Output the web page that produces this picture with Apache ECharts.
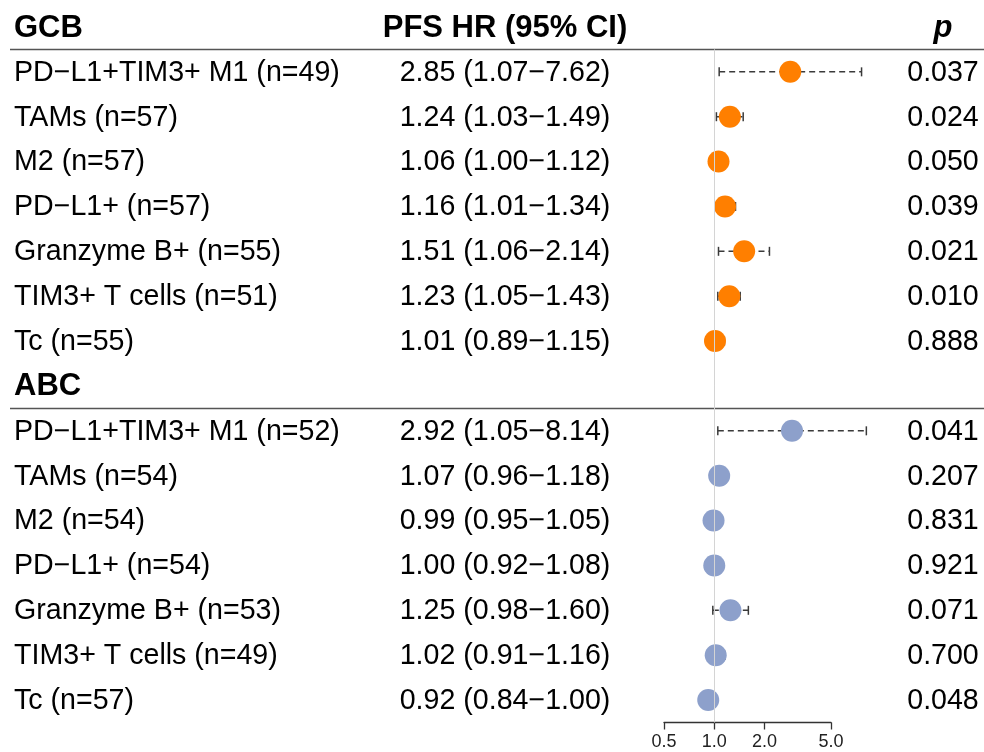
<!DOCTYPE html>
<html>
<head>
<meta charset="utf-8">
<script src="https://cdn.jsdelivr.net/npm/echarts@6/dist/echarts.min.js"></script>
<style>
  html, body { margin: 0; padding: 0; background: #fff; }
  #chart { width: 984px; height: 752px; }
</style>
</head>
<body>
<div id="chart"></div>
<script>
// Subgroup headers and column titles
const groupNames = ['GCB', 'ABC'];
const columnTitles = ['PFS HR (95% CI)', 'p'];
const axisTicks = [0.5, 1.0, 2.0, 5.0];

// GCB subgroup
const gcbLabels = ['PD\u2212L1+TIM3+ M1 (n=49)', 'TAMs (n=57)', 'M2 (n=57)', 'PD\u2212L1+ (n=57)',
  'Granzyme B+ (n=55)', 'TIM3+ T cells (n=51)', 'Tc (n=55)'];
const gcbHR    = [2.85, 1.24, 1.06, 1.16, 1.51, 1.23, 1.01];
const gcbLower = [1.07, 1.03, 1.00, 1.01, 1.06, 1.05, 0.89];
const gcbUpper = [7.62, 1.49, 1.12, 1.34, 2.14, 1.43, 1.15];
const gcbP     = ['0.037', '0.024', '0.050', '0.039', '0.021', '0.010', '0.888'];

// ABC subgroup
const abcLabels = ['PD\u2212L1+TIM3+ M1 (n=52)', 'TAMs (n=54)', 'M2 (n=54)', 'PD\u2212L1+ (n=54)',
  'Granzyme B+ (n=53)', 'TIM3+ T cells (n=49)', 'Tc (n=57)'];
const abcHR    = [2.92, 1.07, 0.99, 1.00, 1.25, 1.02, 0.92];
const abcLower = [1.05, 0.96, 0.95, 0.92, 0.98, 0.91, 0.84];
const abcUpper = [8.14, 1.18, 1.05, 1.08, 1.60, 1.16, 1.00];
const abcP     = ['0.041', '0.207', '0.831', '0.921', '0.071', '0.700', '0.048'];

const FONT = '"Liberation Sans", Arial, Helvetica, sans-serif';
const ORANGE = '#FF7F00';
const BLUE = '#8DA0CB';

// Row layout: header row, 7 items, header row, 7 items
const gcbRows = gcbHR.map((_, i) => i + 1);
const abcRows = abcHR.map((_, i) => i + 9);
const headerRows = [0, 8];

const fmt = v => v.toFixed(2);
const hrText = (hr, lo, up) => fmt(hr) + ' (' + fmt(lo) + '\u2212' + fmt(up) + ')';

// Table rows: [x anchor (HR=1), row, label, hr text, p text]
const tableRows = [];
gcbRows.forEach((r, i) => tableRows.push([1, r, gcbLabels[i], hrText(gcbHR[i], gcbLower[i], gcbUpper[i]), gcbP[i]]));
abcRows.forEach((r, i) => tableRows.push([1, r, abcLabels[i], hrText(abcHR[i], abcLower[i], abcUpper[i]), abcP[i]]));

// Confidence intervals: [lower, row, upper]
const ciRows = [];
gcbRows.forEach((r, i) => ciRows.push([gcbLower[i], r, gcbUpper[i]]));
abcRows.forEach((r, i) => ciRows.push([abcLower[i], r, abcUpper[i]]));

const chart = echarts.init(document.getElementById('chart'), null, { renderer: 'canvas' });

const X_LABEL = 14, X_HR = 505, X_P = 943;

chart.setOption({
  animation: false,
  backgroundColor: '#fff',
  grid: { left: 664, right: 153, top: 49.4, bottom: 29.5 },
  xAxis: {
    type: 'log',
    logBase: 10,
    min: 0.5,
    max: 5,
    splitLine: { show: false },
    axisLine: { show: true, lineStyle: { color: '#333', width: 1.3 } },
    axisTick: { show: true, length: 7, customValues: axisTicks, lineStyle: { color: '#333', width: 1.3 } },
    axisLabel: {
      customValues: axisTicks,
      formatter: v => Number(v).toFixed(1),
      color: '#222', fontSize: 18, fontFamily: FONT, margin: 11
    }
  },
  yAxis: {
    type: 'value',
    inverse: true,
    min: 0.5,
    max: 15.5,
    show: false
  },
  series: [
    {
      // reference line at HR = 1
      type: 'scatter',
      data: [],
      silent: true,
      markLine: {
        silent: true,
        symbol: 'none',
        label: { show: false },
        lineStyle: { color: '#d4d4d4', width: 1, type: 'solid' },
        data: [{ xAxis: 1 }]
      }
    },
    {
      // header rows and separator rules
      type: 'custom',
      clip: false,
      silent: true,
      data: headerRows.map((r, i) => [1, r, groupNames[i]]),
      encode: { x: 0, y: 1 },
      renderItem: (params, api) => {
        const y = api.coord([1, api.value(1)])[1];
        const yRule = api.coord([1, api.value(1) + 0.5])[1];
        const children = [
          { type: 'text', style: { x: X_LABEL, y: y + 1, text: groupNames[params.dataIndex], font: 'bold 31px ' + FONT, fill: '#000', textVerticalAlign: 'middle', textAlign: 'left' } },
          { type: 'line', shape: { x1: 10, y1: yRule, x2: 984, y2: yRule }, style: { stroke: '#555', lineWidth: 1.5 } }
        ];
        if (params.dataIndex === 0) {
          children.push({ type: 'text', style: { x: X_HR, y: y + 1, text: columnTitles[0], font: 'bold 31px ' + FONT, fill: '#000', textVerticalAlign: 'middle', textAlign: 'center' } });
          children.push({ type: 'text', style: { x: X_P, y: y + 1, text: columnTitles[1], font: 'italic bold 31px ' + FONT, fill: '#000', textVerticalAlign: 'middle', textAlign: 'center' } });
        }
        return { type: 'group', children };
      }
    },
    {
      // table text columns
      type: 'custom',
      clip: false,
      silent: true,
      data: tableRows,
      encode: { x: 0, y: 1 },
      renderItem: (params, api) => {
        const y = api.coord([1, api.value(1)])[1] + 1;
        const row = tableRows[params.dataIndex];
        const st = (x, text, align) => ({ type: 'text', style: { x, y, text, font: '28.6px ' + FONT, fill: '#000', textVerticalAlign: 'middle', textAlign: align } });
        return { type: 'group', children: [st(X_LABEL, row[2], 'left'), st(X_HR, row[3], 'center'), st(X_P, row[4], 'center')] };
      }
    },
    {
      // 95% confidence intervals
      type: 'custom',
      clip: false,
      silent: true,
      data: ciRows,
      encode: { x: [0, 2], y: 1 },
      renderItem: (params, api) => {
        const a = api.coord([api.value(0), api.value(1)]);
        const b = api.coord([api.value(2), api.value(1)]);
        const c = 4.5;
        const stroke = { stroke: '#3a3a3a', lineWidth: 1.5 };
        return {
          type: 'group',
          children: [
            { type: 'line', shape: { x1: a[0], y1: a[1], x2: b[0], y2: b[1] }, style: Object.assign({ lineDash: [6, 4] }, stroke) },
            { type: 'line', shape: { x1: a[0], y1: a[1] - c, x2: a[0], y2: a[1] + c }, style: stroke },
            { type: 'line', shape: { x1: b[0], y1: b[1] - c, x2: b[0], y2: b[1] + c }, style: stroke }
          ]
        };
      }
    },
    {
      name: 'GCB',
      type: 'scatter',
      symbol: 'circle',
      symbolSize: 22,
      itemStyle: { color: ORANGE, opacity: 1 },
      silent: true,
      data: gcbHR.map((v, i) => [v, gcbRows[i]])
    },
    {
      name: 'ABC',
      type: 'scatter',
      symbol: 'circle',
      symbolSize: 22,
      itemStyle: { color: BLUE, opacity: 1 },
      silent: true,
      data: abcHR.map((v, i) => [v, abcRows[i]])
    }
  ]
});
</script>
</body>
</html>
